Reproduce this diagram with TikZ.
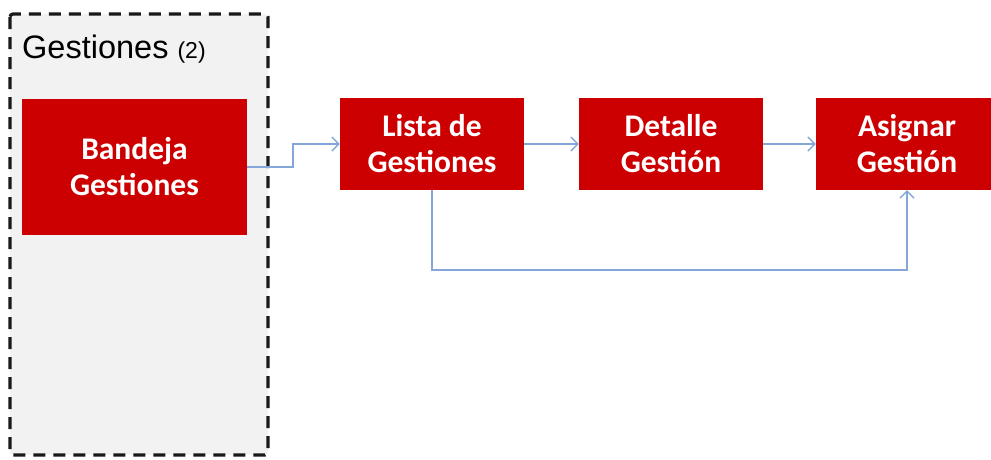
\documentclass[tikz,border=0pt]{standalone}
\usepackage{fontspec}
\setmainfont{Liberation Sans}
\newfontfamily\boxfont{Carlito}
\usetikzlibrary{arrows.meta,calc}
\definecolor{boxred}{HTML}{CC0000}
\definecolor{linkblue}{HTML}{84A6D8}
\definecolor{groupgray}{HTML}{F2F2F2}
\tikzset{
  stepbox/.style={fill=boxred, draw=none, text=white, align=center,
    inner sep=0pt, font=\boxfont\bfseries\fontsize{31.5}{36}\selectfont},
  link/.style={draw=linkblue, line width=1.4pt,
    -{Straight Barb[length=7pt,width=14pt,line width=1.4pt]}},
  group/.style={fill=groupgray, draw=black!90, line width=3.2pt,
    dash pattern=on 12pt off 8pt, rounded corners=3pt}
}
\begin{document}
\begin{tikzpicture}[x=1pt,y=-1pt]
  \useasboundingbox (0,0) rectangle (991,459);
  \clip (0,0) rectangle (991,459);
  % group container
  \draw[group] (10,14) rectangle (268,455);
  \node[anchor=base west, inner sep=0pt, font=\fontsize{32.5}{36}\selectfont]
    (grouptitle) at (22,58) {Gestiones \fontsize{23}{26}\selectfont(2)};
  % screens
  \node[stepbox, minimum width=225pt, minimum height=136pt] (band) at (134.5,167)
    {Bandeja\\Gestiones};
  \node[stepbox, minimum width=184pt, minimum height=92pt] (lista) at (432,144)
    {Lista de\\Gestiones};
  \node[stepbox, minimum width=184pt, minimum height=92pt] (detalle) at (671,144)
    {Detalle\\Gestión};
  \node[stepbox, minimum width=182pt, minimum height=92pt] (asig) at (907,144)
    {Asignar\\Gestión};
  % navigation
  \coordinate (jog) at (293,167);
  \coordinate (under) at (907,270);
  \draw[link] (band.east) -- (jog) |- (lista.west);
  \draw[link] (lista.east) -- (detalle.west);
  \draw[link] (detalle.east) -- (asig.west);
  \draw[link] (lista.south) |- (under) -- (asig.south);
\end{tikzpicture}
\end{document}
